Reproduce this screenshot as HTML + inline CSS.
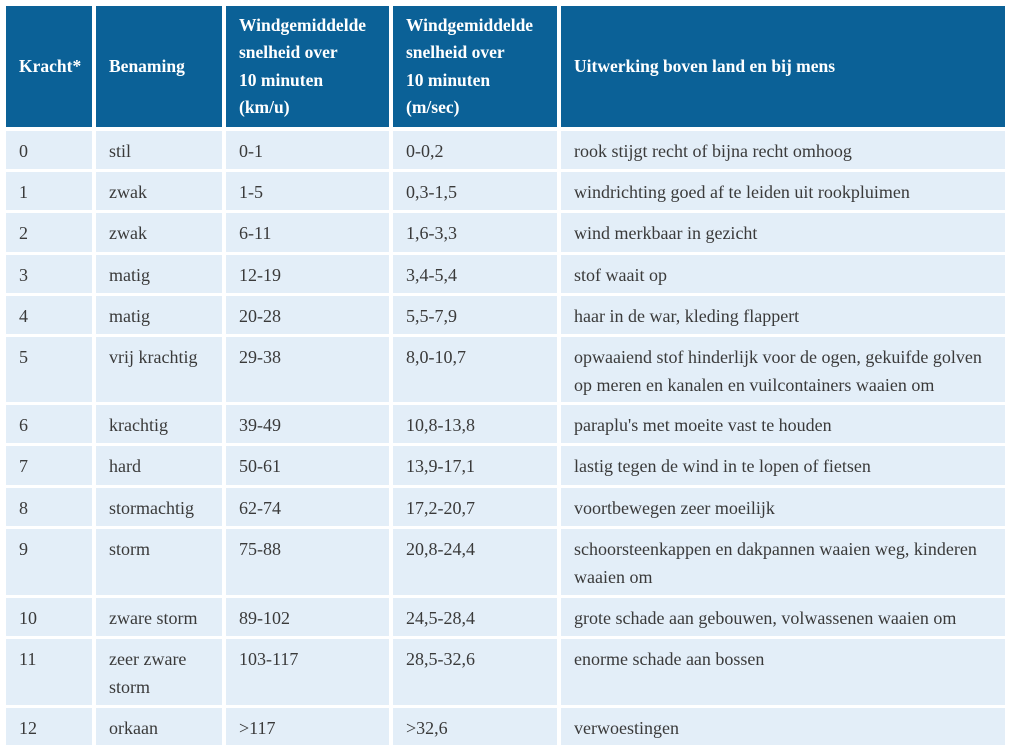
<!DOCTYPE html>
<html><head><meta charset="utf-8"><style>
body{margin:0;width:1013px;height:750px;background:#fff;position:relative;overflow:hidden;font-family:"Liberation Serif",serif;}
.c{position:absolute;box-sizing:border-box;padding:6px 0 0 13px;font-size:18px;line-height:28px;color:#3a3a3a;background:#e3eef8;white-space:nowrap;}
.h{position:absolute;box-sizing:border-box;padding-left:13px;background:#0b6197;color:#fff;font-weight:bold;font-size:17.5px;line-height:27.5px;display:flex;align-items:center;}
</style></head><body>
<div id="t"></div>
<script>
var cols=[[6,92],[96,222],[226,389],[393,557],[561,1005]];
var hd=["Kracht*","Benaming","Windgemiddelde<br>snelheid over<br>10 minuten<br>(km/u)","Windgemiddelde<br>snelheid over<br>10 minuten<br>(m/sec)","Uitwerking boven land en bij mens"];
var b=[129,170,211,253,294,335,403,444,486,527,596,637,706,746];
var rows=[
["0","stil","0-1","0-0,2","rook stijgt recht of bijna recht omhoog"],
["1","zwak","1-5","0,3-1,5","windrichting goed af te leiden uit rookpluimen"],
["2","zwak","6-11","1,6-3,3","wind merkbaar in gezicht"],
["3","matig","12-19","3,4-5,4","stof waait op"],
["4","matig","20-28","5,5-7,9","haar in de war, kleding flappert"],
["5","vrij krachtig","29-38","8,0-10,7","opwaaiend stof hinderlijk voor de ogen, gekuifde golven<br>op meren en kanalen en vuilcontainers waaien om"],
["6","krachtig","39-49","10,8-13,8","paraplu's met moeite vast te houden"],
["7","hard","50-61","13,9-17,1","lastig tegen de wind in te lopen of fietsen"],
["8","stormachtig","62-74","17,2-20,7","voortbewegen zeer moeilijk"],
["9","storm","75-88","20,8-24,4","schoorsteenkappen en dakpannen waaien weg, kinderen<br>waaien om"],
["10","zware storm","89-102","24,5-28,4","grote schade aan gebouwen, volwassenen waaien om"],
["11","zeer zware<br>storm","103-117","28,5-32,6","enorme schade aan bossen"],
["12","orkaan","&gt;117","&gt;32,6","verwoestingen"]];
var h="";
for(var j=0;j<5;j++)h+='<div class="h" style="left:'+cols[j][0]+'px;top:6px;width:'+(cols[j][1]-cols[j][0])+'px;height:121px">'+'<div>'+hd[j]+'</div></div>';
for(var i=0;i<rows.length;i++){var y0=b[i]+2,y1=b[i+1]-1;
for(var j=0;j<5;j++)h+='<div class="c" style="left:'+cols[j][0]+'px;top:'+y0+'px;width:'+(cols[j][1]-cols[j][0])+'px;height:'+(y1-y0)+'px">'+rows[i][j]+'</div>';}
document.getElementById("t").innerHTML=h;
</script>
</body></html>
